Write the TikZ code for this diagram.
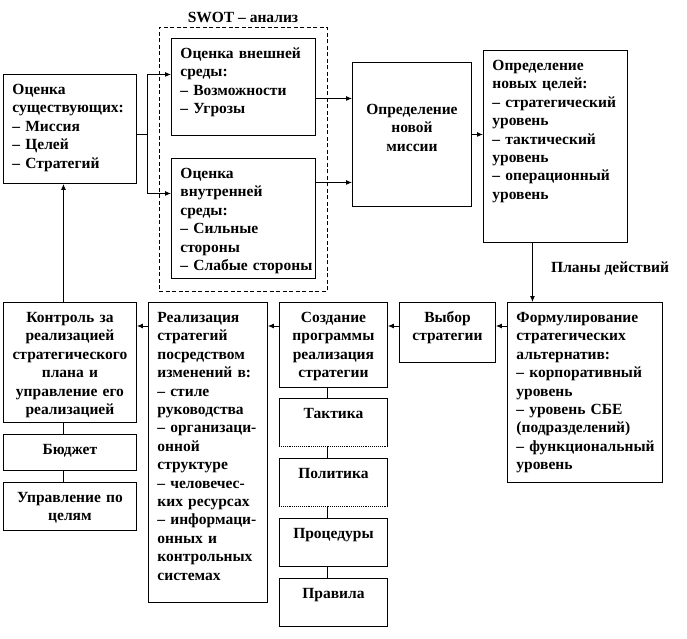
\documentclass[tikz,border=0pt]{standalone}
\usepackage{fontspec}
\setmainfont{Liberation Serif}
\usetikzlibrary{arrows.meta,positioning,calc}
\exhyphenpenalty=10000
\tikzset{
  stagebox/.style={draw,line width=0.9pt,anchor=north west,inner xsep=9pt,inner ysep=9pt,
    text height=11pt,font=\fontsize{15.5}{18.4}\selectfont\bfseries},
  listbox/.style={stagebox,align=left},
  centerbox/.style={stagebox,align=center},
  flowarrow/.style={-{Latex[length=6pt,width=5pt]},line width=0.9pt},
  tieline/.style={line width=0.9pt}
}

\begin{document}
\begin{tikzpicture}[x=1pt,y=-1pt,
  swotframe/.style={draw,dashed,dash pattern=on 4pt off 2.5pt,line width=0.9pt,
    anchor=north west,inner sep=0pt,minimum width=168pt,minimum height=264pt},
  openbox/.style={centerbox,draw=none},
  plainlabel/.style={font=\fontsize{15.5}{18.4}\selectfont\bfseries,inner sep=0pt}
]
  \useasboundingbox (0,0) rectangle (687,638);

  % top row: analysis
  \node[listbox,text width=115pt,text depth=80pt] (exist) at (3,74)
    {Оценка\\существующих:\\– Миссия\\– Целей\\– Стратегий};
  \node[swotframe] (swot) at (159,27) {};
  \node[plainlabel,anchor=base] (swottitle) at (243,22) {SWOT – анализ};
  \node[listbox,text width=126pt,text depth=68pt] (ext) at (171,38)
    {Оценка внешней\\среды:\\– Возможности\\– Угрозы};
  \node[listbox,text width=126pt,text depth=91pt] (int) at (171,158)
    {Оценка\\внутренней\\среды:\\– Сильные\\стороны\\\mbox{– Слабые стороны}};
  \node[centerbox,text width=101pt,text depth=51pt,minimum height=144pt] (mission) at (352,62)
    {Определение\\новой\\миссии};
  \node[listbox,text width=126pt,text depth=163pt] (goals) at (483,50)
    {Определение\\новых целей:\\– стратегический\\уровень\\– тактический\\уровень\\– операционный\\уровень};
  \node[plainlabel,anchor=west] (plans) at (551,269) {Планы действий};

  % bottom row: implementation
  \node[listbox,text width=137pt,text depth=151pt] (form) at (507,302)
    {Формулирование\\стратегических\\альтернатив:\\– корпоративный\\уровень\\– уровень СБЕ\\(подразделений)\\\mbox{– функциональный}\\уровень};
  \node[centerbox,text width=78pt,text depth=31pt] (choice) at (399,302)
    {Выбор\\стратегии};
  \node[centerbox,text width=90pt,text depth=56pt] (prog) at (279,302)
    {Создание\\программы\\реализация\\стратегии};
  \node[openbox,text width=90pt,text depth=19pt] (tactic) at (279,398) {Тактика};
  \node[openbox,text width=90pt,text depth=19pt] (policy) at (279,458) {Политика};
  \node[centerbox,text width=90pt,text depth=19pt] (proc) at (279,518) {Процедуры};
  \node[centerbox,text width=90pt,text depth=19pt] (rules) at (279,578) {Правила};
  \node[listbox,text width=101pt,text depth=271pt] (realize) at (148,302)
    {Реализация\\стратегий\\посредством\\изменений в:\\– стиле\\руководства\\– организаци-\\онной\\структуре\\– человечес-\\ких ресурсах\\– информаци-\\онных и\\контрольных\\системах};
  \node[centerbox,text width=115pt,text depth=91pt] (control) at (3,302)
    {Контроль за\\реализацией\\стратегического\\плана и\\управление его\\реализацией};
  \node[centerbox,text width=115pt,text depth=7pt] (budget) at (3,434) {Бюджет};
  \node[centerbox,text width=115pt,text depth=19pt] (mbo) at (3,482) {Управление по\\целям};

  % open boxes with dotted bottom edge
  \foreach \b in {tactic,policy}{
    \draw[tieline] (\b.south west) |- (\b.north east) -- (\b.south east);
    \draw[densely dotted,line width=0.9pt] (\b.south west) -- (\b.south east);
  }

  % connectors
  \draw[flowarrow] ([yshift=-5.5pt]exist.east) -- ++(11,0) |- ([yshift=12.5pt]ext.west);
  \draw[flowarrow] ([yshift=-5.5pt]exist.east) -- ++(11,0) |- ([yshift=25pt]int.west);
  \draw[flowarrow] ([yshift=-11.5pt]ext.east) -- ([yshift=-11.5pt]ext.east -| mission.west);
  \draw[flowarrow] ([yshift=36pt]int.east) -- ([yshift=36pt]int.east -| mission.west);
  \draw[flowarrow] (mission.east) -- (mission.east -| goals.west);
  \draw[flowarrow] ([xshift=-23pt]goals.south) -- ([xshift=-23pt]goals.south |- form.north);

  \coordinate (chainrow) at (0,326);
  \draw[flowarrow] (form.west |- chainrow) -- (choice.east |- chainrow);
  \draw[flowarrow] (choice.west |- chainrow) -- (prog.east |- chainrow);
  \draw[flowarrow] (prog.west |- chainrow) -- (realize.east |- chainrow);
  \draw[flowarrow] (realize.west |- chainrow) -- (control.east |- chainrow);
  \draw[flowarrow] ([xshift=-6.5pt]control.north) -- ([xshift=-6.5pt]control.north |- exist.south);

  \draw[tieline] ([xshift=-6.5pt]control.south) -- ([xshift=-6.5pt]budget.north);
  \draw[tieline] ([xshift=-6.5pt]budget.south) -- ([xshift=-6.5pt]mbo.north);
  \draw[tieline] ([xshift=-6pt]prog.south) -- ([xshift=-6pt]tactic.north);
  \draw[tieline] ([xshift=-6pt]tactic.south) -- ([xshift=-6pt]policy.north);
  \draw[tieline] ([xshift=-6pt]policy.south) -- ([xshift=-6pt]proc.north);
  \draw[tieline] ([xshift=-6pt]proc.south) -- ([xshift=-6pt]rules.north);
\end{tikzpicture}
\end{document}
